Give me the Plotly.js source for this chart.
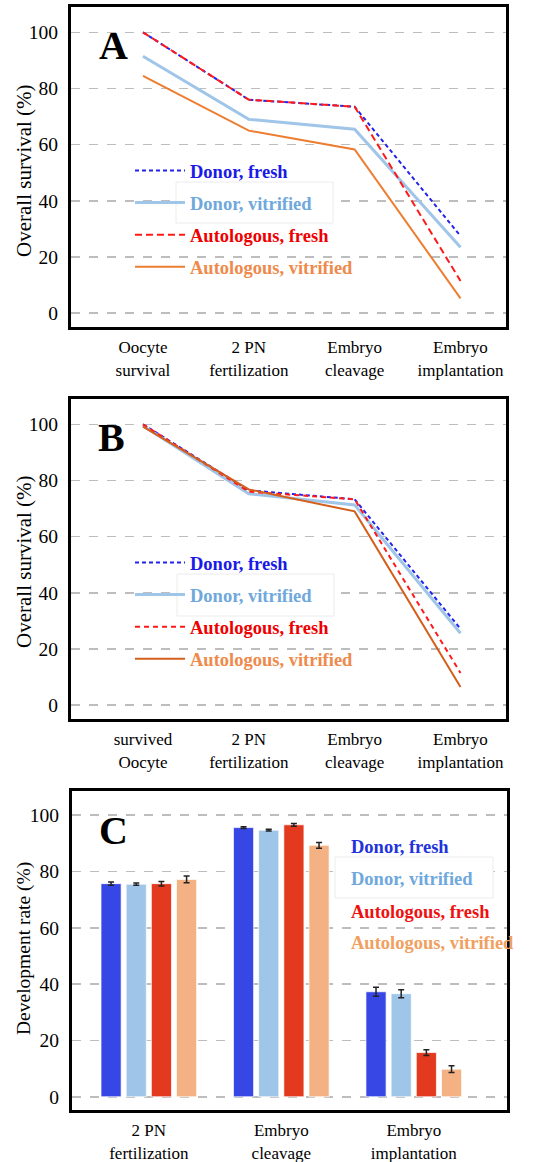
<!DOCTYPE html>
<html><head><meta charset="utf-8">
<script src="https://cdn.plot.ly/plotly-3.0.1.min.js"></script>
<style>html,body{margin:0;padding:0;background:#fff}#chart{width:554px;height:1162px}</style>
</head><body><div id="chart"></div>
<script>
// ---- data ----
const stagesA = ['Oocyte<br>survival', '2 PN<br>fertilization', 'Embryo<br>cleavage', 'Embryo<br>implantation'];
const stagesB = ['survived<br>Oocyte', '2 PN<br>fertilization', 'Embryo<br>cleavage', 'Embryo<br>implantation'];
const stagesC = ['2 PN<br>fertilization', 'Embryo<br>cleavage', 'Embryo<br>implantation'];
const seriesNames = ['Donor, fresh', 'Donor, vitrified', 'Autologous, fresh', 'Autologous, vitrified'];
const yTitles = ['Overall survival (%)', 'Overall survival (%)', 'Development rate (%)'];
const panelLetters = ['A', 'B', 'C'];

const aDonorFresh = [100, 76, 73.5, 27.5];
const aDonorVitrified = [91.5, 69, 65.5, 23.5];
const aAutoFresh = [100, 76, 73.5, 11.5];
const aAutoVitrified = [84.5, 65, 58.3, 5.3];

const bDonorFresh = [100, 76.5, 73.3, 27.2];
const bDonorVitrified = [99.5, 75.3, 71.3, 25.6];
const bAutoFresh = [100, 76, 73.3, 11.5];
const bAutoVitrified = [99.2, 76.8, 69, 6.5];

const cDonorFresh = [75.7, 95.6, 37.3];
const cDonorVitrified = [75.5, 94.7, 36.6];
const cAutoFresh = [75.7, 96.6, 15.7];
const cAutoVitrified = [77.2, 89.3, 9.8];
const cDonorFreshErr = [0.6, 0.3, 1.6];
const cDonorVitrifiedErr = [0.4, 0.3, 1.4];
const cAutoFreshErr = [0.8, 0.5, 1.0];
const cAutoVitrifiedErr = [1.2, 1.0, 1.2];

// ---- styles ----
const FONT = "'Liberation Serif', 'Times New Roman', serif";
const textColors = ['#1a1ae8', '#6fa8dc', '#ee0000', '#ee8a4c'];
const lineStylesA = [
  {color: '#2323ee', width: 2, dash: '4px,3px'},
  {color: '#9fc5e8', width: 3, dash: 'solid'},
  {color: '#ff1a1a', width: 2, dash: '7px,4px'},
  {color: '#ed7d31', width: 2, dash: 'solid'}
];
const lineStylesB = [
  {color: '#2323ee', width: 2, dash: '4px,3px'},
  {color: '#9fc5e8', width: 3, dash: 'solid'},
  {color: '#ff1a1a', width: 2, dash: '5px,4px'},
  {color: '#d45f1c', width: 2, dash: 'solid'}
];
const barColors = ['#3747e5', '#9fc5e8', '#e3391f', '#f4b183'];
const legendTextC = ['#2233dd', '#6fa8dc', '#ee1111', '#f0a060'];

const valsA = [aDonorFresh, aDonorVitrified, aAutoFresh, aAutoVitrified];
const valsB = [bDonorFresh, bDonorVitrified, bAutoFresh, bAutoVitrified];
const valsC = [cDonorFresh, cDonorVitrified, cAutoFresh, cAutoVitrified];
const errsC = [cDonorFreshErr, cDonorVitrifiedErr, cAutoFreshErr, cAutoVitrifiedErr];

function label(i, col) {
  return '<span style="color:' + col + '"><b>' + seriesNames[i] + '</b></span>';
}

const traces = [];
valsA.forEach((v, i) => traces.push({
  type: 'scatter', mode: 'lines', x: stagesA, y: v, xaxis: 'x', yaxis: 'y',
  name: label(i, textColors[i]), legend: 'legend', legendgroup: 'a' + i,
  line: lineStylesA[i], hoverinfo: 'skip'
}));
valsB.forEach((v, i) => traces.push({
  type: 'scatter', mode: 'lines', x: stagesB, y: v, xaxis: 'x2', yaxis: 'y2',
  name: label(i, textColors[i]), legend: 'legend2', legendgroup: 'b' + i,
  line: lineStylesB[i], hoverinfo: 'skip'
}));
valsC.forEach((v, i) => traces.push({
  type: 'bar', x: stagesC, y: v, xaxis: 'x3', yaxis: 'y3', showlegend: false,
  name: seriesNames[i],
  marker: {color: barColors[i], line: {color: 'rgba(255,255,255,0.7)', width: 1}},
  error_y: {type: 'data', array: errsC[i], visible: true, color: '#222', thickness: 1.5, width: 3}
}));

function px(v) { return v / 554; }
function py(v) { return 1 - v / 1162; }

const xBase = {
  type: 'category', showgrid: false, zeroline: false, ticks: '',
  showline: true, mirror: true, linecolor: '#000', linewidth: 3,
  tickfont: {family: FONT, size: 17, color: '#000'}, ticklabelstandoff: 3
};
const yBase = {
  range: [-4.9, 109], tickvals: [0, 20, 40, 60, 80, 100], zeroline: false,
  showgrid: true, gridcolor: '#bdbdbd', griddash: 'dash', gridwidth: 1.5,
  showline: true, mirror: true, linecolor: '#000', linewidth: 3, ticks: '',
  tickfont: {family: FONT, size: 19.5, color: '#000'}, ticklabelstandoff: 6
};

const legBase = {
  bgcolor: 'rgba(0,0,0,0)', borderwidth: 0, xanchor: 'left', yanchor: 'top',
  font: {family: FONT, size: 18.5}, traceorder: 'grouped', tracegroupgap: 5, itemwidth: 50
};

const layout = {
  width: 554, height: 1162, margin: {l: 0, r: 0, t: 0, b: 0},
  paper_bgcolor: '#fff', plot_bgcolor: '#fff', showlegend: true,
  barmode: 'group', bargap: 0.24, bargroupgap: 0.2,
  xaxis: Object.assign({}, xBase, {domain: [px(71), px(506)], range: [-0.68, 3.43], anchor: 'y'}),
  yaxis: Object.assign({}, yBase, {domain: [py(327), py(7)], anchor: 'x'}),
  xaxis2: Object.assign({}, xBase, {domain: [px(71), px(506)], range: [-0.68, 3.43], anchor: 'y2'}),
  yaxis2: Object.assign({}, yBase, {domain: [py(719), py(399)], anchor: 'x2'}),
  xaxis3: Object.assign({}, xBase, {domain: [px(72), px(506.5)], range: [-0.58, 2.70], anchor: 'y3'}),
  yaxis3: Object.assign({}, yBase, {domain: [py(1110), py(791)], anchor: 'x3', range: [-4.7, 108.6]}),
  legend: Object.assign({}, legBase, {x: px(130), y: py(152)}),
  legend2: Object.assign({}, legBase, {x: px(130), y: py(544)}),
  shapes: [
    {type: 'rect', xref: 'paper', yref: 'paper', x0: px(176), x1: px(333), y0: py(223), y1: py(182),
      fillcolor: '#fff', line: {color: '#ececec', width: 1}, layer: 'above'},
    {type: 'rect', xref: 'paper', yref: 'paper', x0: px(177), x1: px(334), y0: py(616), y1: py(574),
      fillcolor: '#fff', line: {color: '#ececec', width: 1}, layer: 'above'},
    {type: 'rect', xref: 'paper', yref: 'paper', x0: px(335), x1: px(493), y0: py(898), y1: py(857),
      fillcolor: '#fff', line: {color: '#ececec', width: 1}, layer: 'above'}
  ],
  annotations: []
};

// panel letters
const letterPos = [[113, 46], [112, 438], [113, 830]];
panelLetters.forEach((t, i) => layout.annotations.push({
  text: '<b>' + t + '</b>', xref: 'paper', yref: 'paper', x: px(letterPos[i][0]), y: py(letterPos[i][1]),
  xanchor: 'center', yanchor: 'middle', showarrow: false,
  font: {family: FONT, size: 40, color: '#000'}
}));
// y-axis titles
const yTitlePos = [[24, 171], [24, 562], [24, 949]];
const yTitleSize = [21, 21, 19.5];
yTitles.forEach((t, i) => layout.annotations.push({
  text: t, xref: 'paper', yref: 'paper', x: px(yTitlePos[i][0]), y: py(yTitlePos[i][1]),
  xanchor: 'center', yanchor: 'middle', textangle: -90, showarrow: false,
  font: {family: FONT, size: yTitleSize[i], color: '#000'}
}));
// panel C legend (text only)
const rowsC = [847, 879, 912, 943];
seriesNames.forEach((n, i) => layout.annotations.push({
  text: '<b>' + n + '</b>', xref: 'paper', yref: 'paper', x: px(349), y: py(rowsC[i]),
  xanchor: 'left', yanchor: 'middle', showarrow: false,
  font: {family: FONT, size: 18.5, color: legendTextC[i]}
}));

Plotly.newPlot('chart', traces, layout, {staticPlot: true, displayModeBar: false});
</script></body></html>
